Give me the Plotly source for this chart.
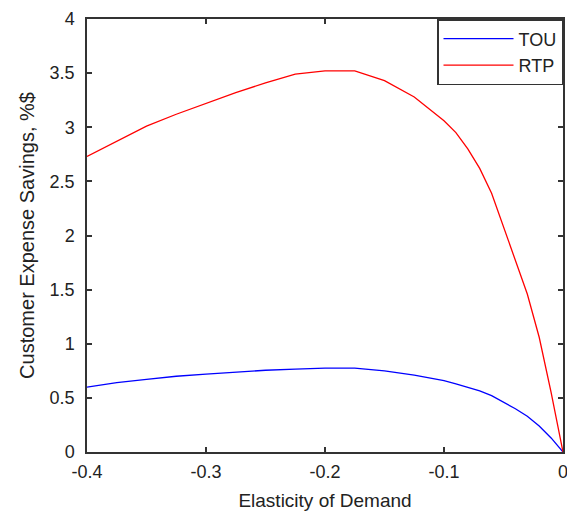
import plotly.graph_objects as go

elasticity = [-0.4, -0.375, -0.35, -0.325, -0.3, -0.275, -0.25, -0.225, -0.2, -0.175,
              -0.15, -0.125, -0.1, -0.09, -0.08, -0.07, -0.06, -0.05, -0.04, -0.03,
              -0.02, -0.01, 0.0]
rtp = [2.73, 2.87, 3.01, 3.12, 3.22, 3.32, 3.41, 3.49, 3.52, 3.52,
       3.43, 3.28, 3.06, 2.95, 2.80, 2.62, 2.39, 2.08, 1.79, 1.46,
       1.06, 0.55, 0.0]
tou = [0.60, 0.64, 0.67, 0.70, 0.72, 0.74, 0.755, 0.765, 0.775, 0.775,
       0.75, 0.71, 0.66, 0.63, 0.60, 0.565, 0.52, 0.46, 0.40, 0.33,
       0.24, 0.13, 0.0]

x_ticks = [-0.4, -0.3, -0.2, -0.1, 0]
x_tick_labels = ["-0.4", "-0.3", "-0.2", "-0.1", "0"]
y_ticks = [0, 0.5, 1, 1.5, 2, 2.5, 3, 3.5, 4]
y_tick_labels = ["0", "0.5", "1", "1.5", "2", "2.5", "3", "3.5", "4"]

FONT = "Liberation Sans, Arial, sans-serif"
TXT = "#222222"
AX = "#333333"

fig = go.Figure()
fig.add_trace(go.Scatter(x=elasticity, y=tou, mode="lines", name="TOU",
                         line=dict(color="#0000FF", width=1.3)))
fig.add_trace(go.Scatter(x=elasticity, y=rtp, mode="lines", name="RTP",
                         line=dict(color="#FF0000", width=1.3)))

axis_common = dict(showline=True, linecolor=AX, linewidth=1.5, mirror="allticks",
                   ticks="inside", ticklen=5, tickcolor=AX, tickwidth=1.5,
                   showgrid=False, zeroline=False, automargin=False,
                   ticklabeloverflow="allow",
                   tickfont=dict(family=FONT, size=18, color=TXT))

fig.update_layout(
    width=567, height=511,
    margin=dict(l=87, r=4, t=19, b=59),
    paper_bgcolor="white", plot_bgcolor="white",
    font=dict(family=FONT, size=18, color=TXT),
    xaxis=dict(range=[-0.4, 0], tickvals=x_ticks, ticktext=x_tick_labels,
               ticklabelstandoff=3,
               title=dict(text="Elasticity of Demand", font=dict(size=19), standoff=12),
               **axis_common),
    yaxis=dict(range=[0, 4], tickvals=y_ticks, ticktext=y_tick_labels,
               ticklabelstandoff=7,
               title=dict(text="Customer Expense Savings, %$", font=dict(size=20), standoff=10),
               **axis_common),
    legend=dict(x=1, y=1, xanchor="right", yanchor="top",
                bordercolor=AX, borderwidth=1.5, bgcolor="white",
                font=dict(family=FONT, size=18, color=TXT),
                itemwidth=70, entrywidth=63, entrywidthmode="pixels",
                tracegroupgap=4),
    showlegend=True,
)

fig.write_html(
    "out.html",
    config={"displayModeBar": False},
    post_script="document.body.style.margin='0';document.body.style.overflow='hidden';",
)
